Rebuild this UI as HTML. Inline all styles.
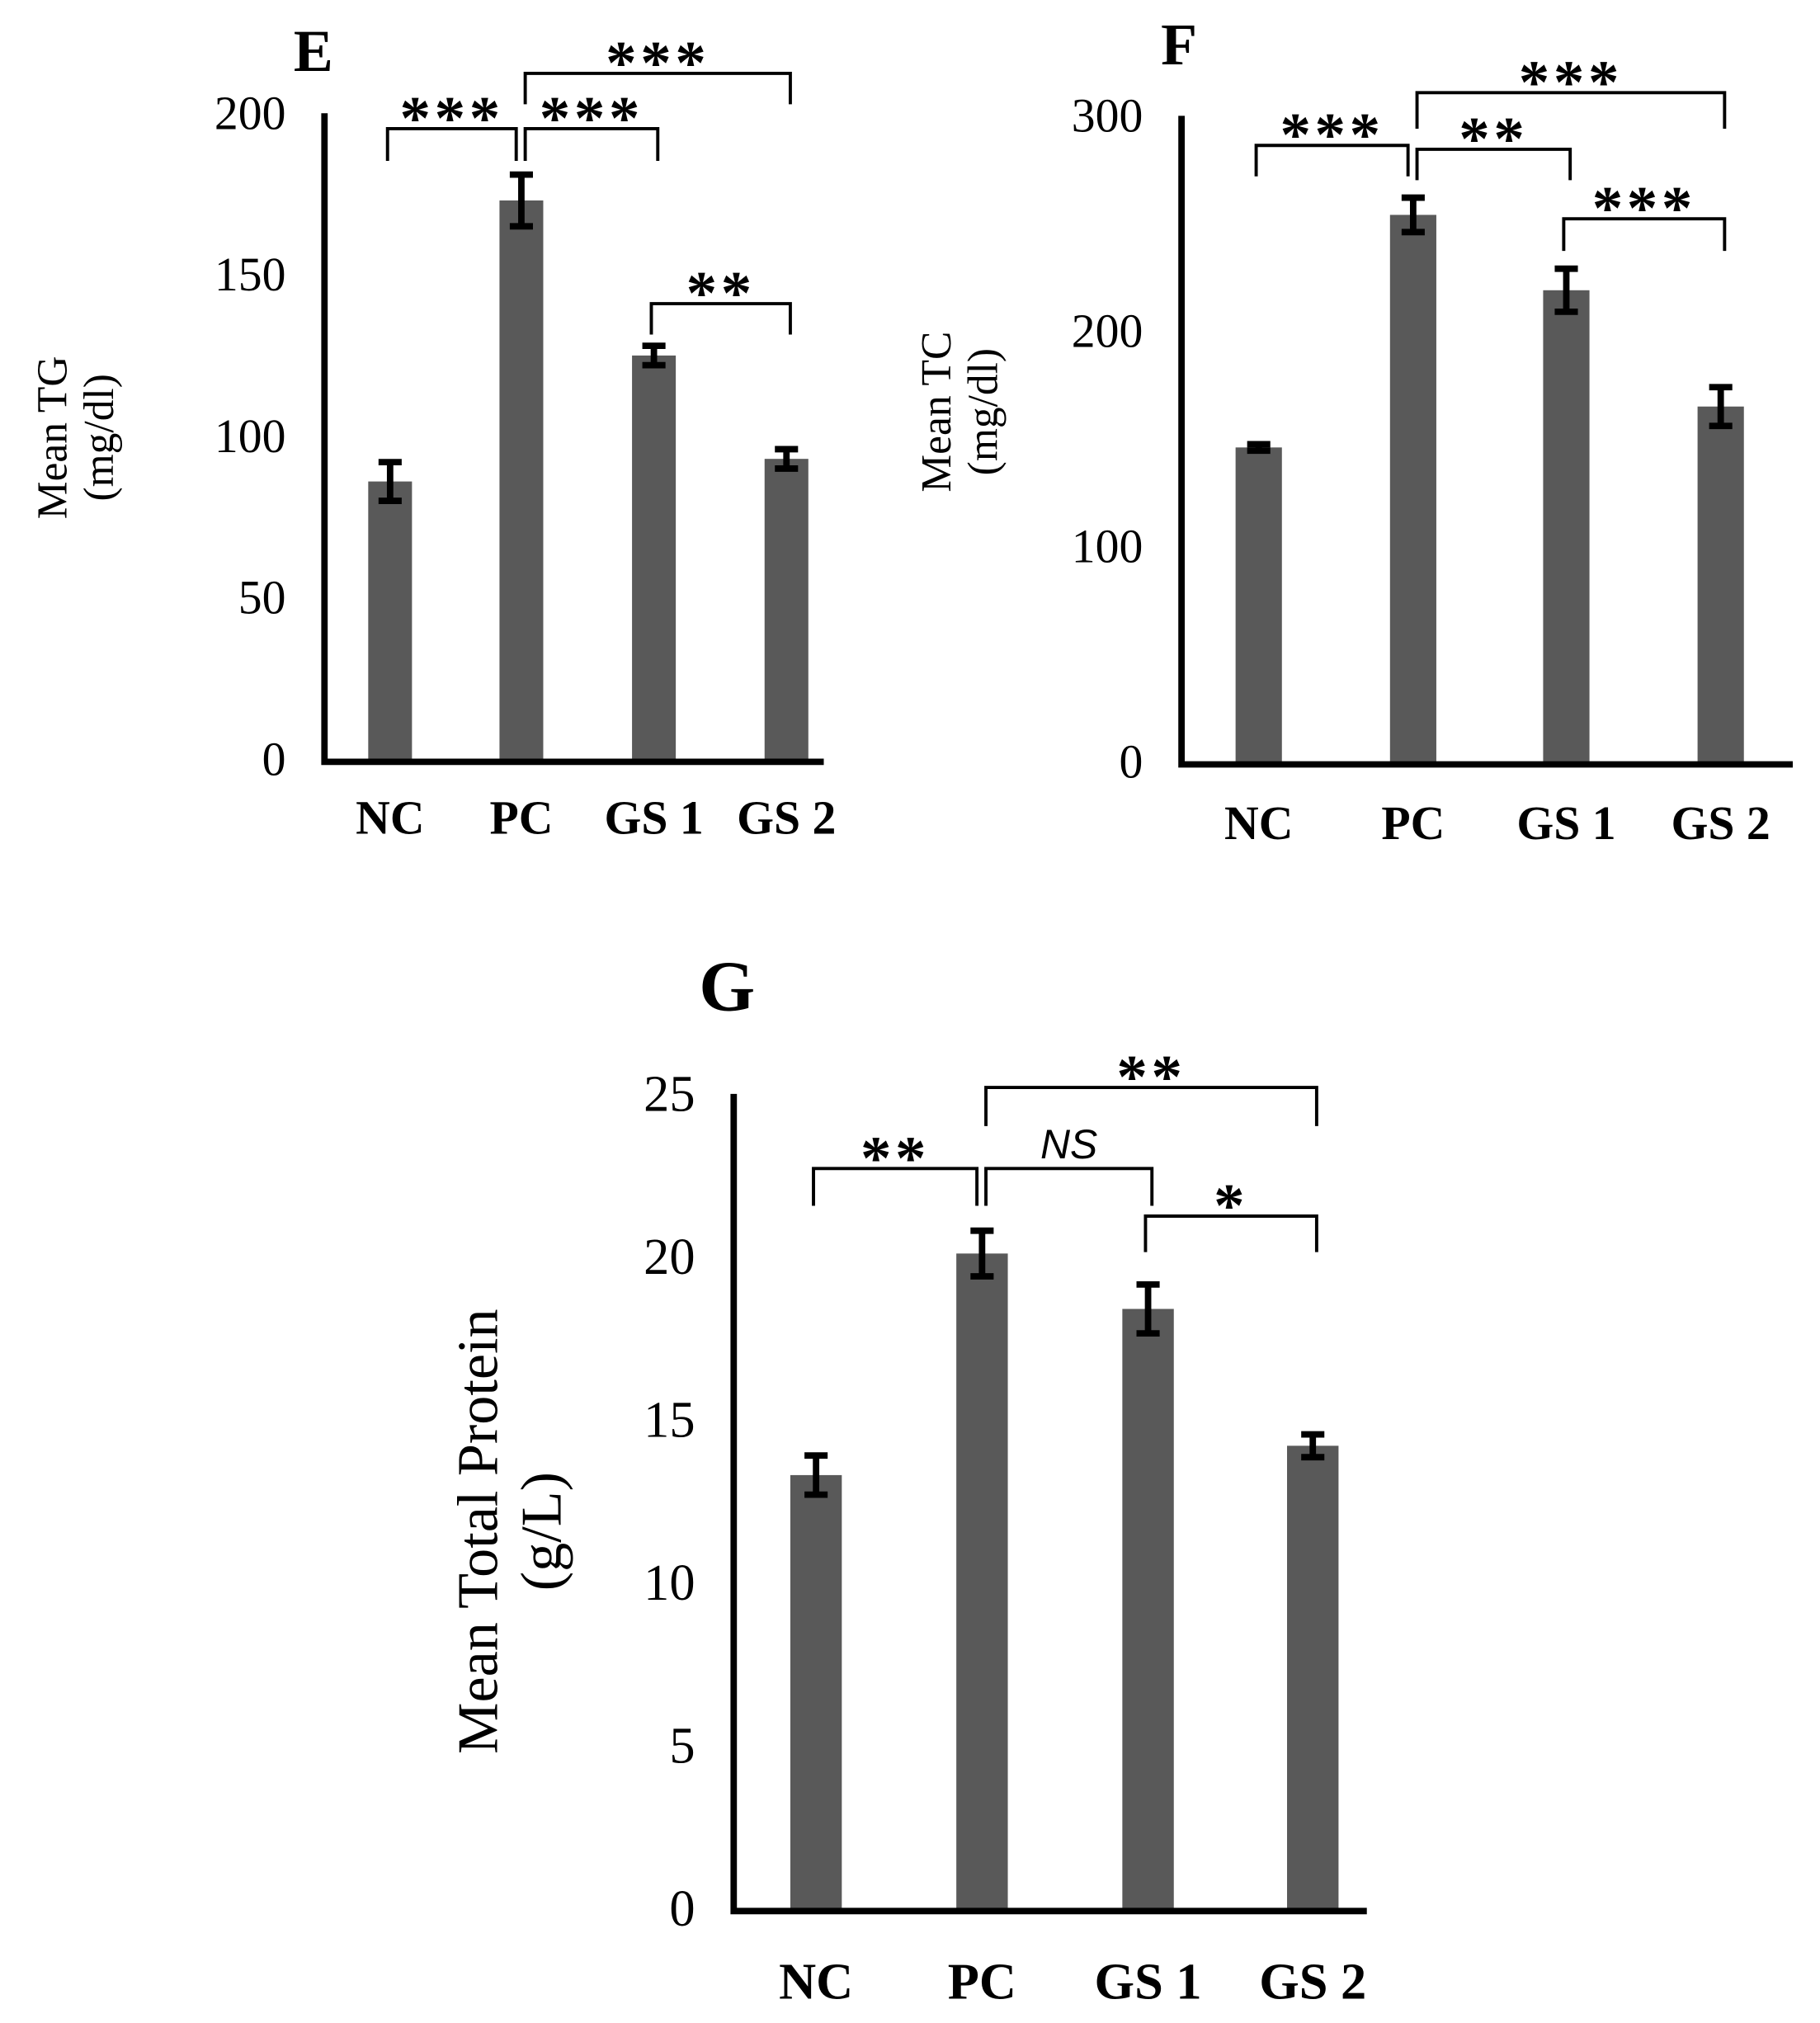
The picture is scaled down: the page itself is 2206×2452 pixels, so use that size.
<!DOCTYPE html>
<html><head><meta charset="utf-8"><style>
html,body{margin:0;padding:0;background:#fff;}
svg{display:block;}
text{font-family:"Liberation Serif",serif;fill:#000;}
</style></head><body>
<svg id="fig" width="2206" height="2452" viewBox="0 0 1414 1572" xmlns="http://www.w3.org/2000/svg"></svg>
<script>
const categories = ["NC","PC","GS 1","GS 2"];
const tgValues = [86, 173, 125, 93];
const tgErrors = [6, 8, 3, 3];
const tgTicks = [0, 50, 100, 150, 200];
const tcValues = [146, 254, 219, 165];
const tcErrors = [1.5, 8, 10, 9];
const tcTicks = [0, 100, 200, 300];
const tpValues = [13.3, 20.1, 18.4, 14.2];
const tpErrors = [0.6, 0.7, 0.75, 0.35];
const tpTicks = [0, 5, 10, 15, 20, 25];
const tgSig = [[0,1,"***"],[1,2,"***"],[1,3,"***"],[2,3,"**"]];
const tcSig = [[0,1,"***"],[1,2,"**"],[1,3,"***"],[2,3,"***"]];
const tpSig = [[0,1,"**"],[1,2,"NS"],[1,3,"**"],[2,3,"*"]];

const NS = "http://www.w3.org/2000/svg";
const svg = document.getElementById("fig");
function mk(tag, attrs, parent){
  const e = document.createElementNS(NS, tag);
  for (const k in attrs) e.setAttribute(k, attrs[k]);
  (parent||svg).appendChild(e);
  return e;
}

function panel(cfg){
  const g = mk("g", {});
  
  
  const y = v => cfg.y0 - v / cfg.max * (cfg.y0 - cfg.yTop);
  const x = i => cfg.xs[i];
  const L = mk("text", {x: cfg.letter[1], y: cfg.letter[2], "font-size": cfg.letter[3], "font-weight": "bold"}, g);
  L.textContent = cfg.letter[0];
  
  
  const fs = cfg.ylab[4];
  const yl = mk("text", {transform: `translate(${cfg.ylab[0]},${cfg.ylab[1]}) rotate(-90)`, "text-anchor": "middle", "font-size": fs}, g);
  
  
  const t1 = mk("tspan", {x: 0, dy: -fs*0.2}, yl); t1.textContent = cfg.ylab[2];
  const t2 = mk("tspan", {x: 0, dy: fs*1.1}, yl); t2.textContent = cfg.ylab[3];
  cfg.ticks.forEach(t => {
    const tx = mk("text", {x: cfg.axisX - 30, y: y(t) + cfg.tickFs*0.33, "text-anchor": "end", "font-size": cfg.tickFs}, g);
    tx.textContent = t;
    
    
  });
  cfg.values.forEach((v, i) => {
    const b = mk("rect", {x: x(i) - cfg.bw/2, y: y(v), width: cfg.bw, height: cfg.y0 - y(v), fill: "#595959"}, g);
    
    
    const e = cfg.errors[i];
    const eg = mk("g", {stroke: "#000"}, g);
    
    
    mk("line", {x1: x(i), x2: x(i), y1: y(v + e), y2: y(v - e), "stroke-width": 5}, eg);
    mk("line", {x1: x(i) - 9, x2: x(i) + 9, y1: y(v + e), y2: y(v + e), "stroke-width": 5}, eg);
    mk("line", {x1: x(i) - 9, x2: x(i) + 9, y1: y(v - e), y2: y(v - e), "stroke-width": 5}, eg);
    const xl = mk("text", {x: x(i), y: cfg.xlabY, "text-anchor": "middle", "font-size": cfg.xFs, "font-weight": "bold"}, g);
    xl.textContent = categories[i];
    
    
  });
  const ax = mk("path", {d: `M${cfg.axisX},${cfg.yTop} L${cfg.axisX},${cfg.y0+2} L${cfg.axisEnd},${cfg.y0+2}`, fill: "none", stroke: "#000", "stroke-width": 5}, g);
  
  
  cfg.sig.forEach((s, k) => {
    const [a, b, lab] = s;
    const by = cfg.br[k][0], drop = cfg.br[k][1];
    const xa = x(a) + (a === 1 && k !== 0 ? 3 : -2), xb = x(b) + (b === 1 ? -4 : 3);
    const p = mk("path", {d: `M${xa},${by+drop} L${xa},${by} L${xb},${by} L${xb},${by+drop}`, fill: "none", stroke: "#000", "stroke-width": 2.5}, g);
    
    
    const isNS = lab === "NS";
    const st = mk("text", {x: (xa + xb)/2, y: isNS ? by - 8 : by + 8, "text-anchor": "middle",
      "font-size": isNS ? 32 : 48, "font-weight": isNS ? "normal" : "bold", "font-style": isNS ? "italic" : "normal",
      "letter-spacing": isNS ? 0 : 3, style: isNS ? 'font-family:"Liberation Sans",sans-serif' : ''}, g);
    st.textContent = lab;
    
    
  });
}

panel({id: "tg", values: tgValues, errors: tgErrors, ticks: tgTicks, sig: tgSig, max: 200,
  y0: 590, yTop: 88, axisX: 252, axisEnd: 640, xs: [303, 405, 508, 611], bw: 34, xlabY: 648,
  tickFs: 37, xFs: 37,
  letter: ["E", 228, 55, 46], ylab: [58, 340, "Mean TG", "(mg/dl)", 33],
  br: [[100, 25], [100, 25], [57, 24], [236, 24]]});
panel({id: "tc", values: tcValues, errors: tcErrors, ticks: tcTicks, sig: tcSig, max: 300,
  y0: 592, yTop: 90, axisX: 918, axisEnd: 1393, xs: [978, 1098, 1217, 1337], bw: 36, xlabY: 652,
  tickFs: 37, xFs: 37,
  letter: ["F", 902, 50, 46], ylab: [745, 320, "Mean  TC", "(mg/dl)", 33],
  br: [[113, 24], [116, 24], [72, 28], [170, 25]]});
panel({id: "tp", values: tpValues, errors: tpErrors, ticks: tpTicks, sig: tpSig, max: 25,
  y0: 1483, yTop: 850, axisX: 570, axisEnd: 1062, xs: [634, 763, 892, 1020], bw: 40, xlabY: 1553,
  tickFs: 40, xFs: 40,
  letter: ["G", 543, 785, 56], ylab: [395, 1190, "Mean Total Protein", "(g/L)", 45],
  br: [[908, 29], [908, 29], [845, 30], [945, 28]]});
</script>
</body></html>
